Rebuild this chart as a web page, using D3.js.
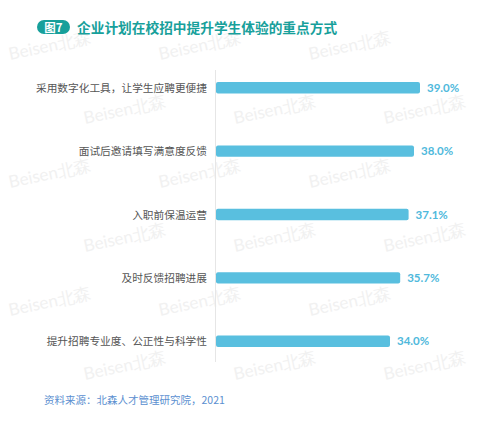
<!DOCTYPE html>
<html>
<head>
<meta charset="utf-8">
<script src="https://cdn.jsdelivr.net/npm/d3@7"></script>
<style>
  html, body { margin: 0; padding: 0; background: #fff; }
  svg { display: block; font-family: "Noto Sans CJK SC", "Noto Sans", sans-serif; }
</style>
</head>
<body>
<svg id="chart" width="500" height="425"></svg>
<script>
var categories = ["采用数字化工具，让学生应聘更便捷", "面试后邀请填写满意度反馈", "入职前保温运营", "及时反馈招聘进展", "提升招聘专业度、公正性与科学性"];
var values = [39.0, 38.0, 37.1, 35.7, 34.0];
var valueLabels = ["39.0%", "38.0%", "37.1%", "35.7%", "34.0%"];
var figureTag = "图7";
var titleText = "企业计划在校招中提升学生体验的重点方式";
var sourceText = "资料来源：北森人才管理研究院，2021";

var svg = d3.select("#chart");

// faint watermark, kept inside the frame
var wm = svg.append("g");
for (var r = 0; r < 6; r++) {
  for (var c = 0; c < 4; c++) {
    var wx = 10 + c * 150 + (r % 2) * 75;
    var wy = 60 + r * 64;
    if (wx + 95 > 495) continue;
    wm.append("text")
      .attr("transform", "translate(" + wx + "," + wy + ") rotate(-12)")
      .attr("fill", "#f1f1f1")
      .attr("font-size", 17)
      .attr("font-family", "Lato, sans-serif")
      .text("Beisen北森");
  }
}

// title
svg.append("rect")
  .attr("x", 37).attr("y", 20).attr("width", 33).attr("height", 14)
  .attr("rx", 7).attr("fill", "#17a09b");
svg.append("text")
  .attr("x", 53.5).attr("y", 31.5)
  .attr("text-anchor", "middle")
  .attr("fill", "#fff").attr("font-size", 11.5).attr("font-weight", "bold")
  .text(figureTag);
svg.append("text")
  .attr("x", 77).attr("y", 32.5)
  .attr("fill", "#17a09b").attr("font-size", 13.7).attr("font-weight", "bold")
  .text(titleText);

var x = d3.scaleLinear().domain([5, 39]).range([216, 420]);
var y = d3.scaleBand().domain(categories).range([56, 373]).paddingInner(0.82).paddingOuter(0.41);

// baseline
svg.append("line")
  .attr("x1", 215.5).attr("x2", 215.5)
  .attr("y1", 70).attr("y2", 362)
  .attr("stroke", "#e6e6e6").attr("stroke-width", 1);

var bars = svg.append("g");
bars.selectAll("rect")
  .data(values)
  .join("rect")
  .attr("x", x(5))
  .attr("y", function(d, i) { return y(categories[i]); })
  .attr("width", function(d) { return x(d) - x(5); })
  .attr("height", y.bandwidth())
  .attr("rx", 2)
  .attr("fill", "#59bfdf");

bars.selectAll("text.val")
  .data(values)
  .join("text")
  .attr("class", "val")
  .attr("x", function(d) { return x(d) + 7; })
  .attr("y", function(d, i) { return y(categories[i]) + y.bandwidth() / 2 + 4; })
  .attr("fill", "#4fb9dc")
  .attr("font-size", 11.5)
  .attr("font-weight", "bold")
  .attr("font-family", "Lato, sans-serif")
  .text(function(d, i) { return valueLabels[i]; });

svg.append("g").selectAll("text")
  .data(categories)
  .join("text")
  .attr("x", 207)
  .attr("y", function(d) { return y(d) + y.bandwidth() / 2 + 4; })
  .attr("text-anchor", "end")
  .attr("fill", "#555")
  .attr("font-size", 10.7)
  .text(function(d) { return d; });

// source
svg.append("text")
  .attr("x", 44).attr("y", 404)
  .attr("fill", "#5b8fd0").attr("font-size", 10.5)
  .text(sourceText);
</script>
</body>
</html>
